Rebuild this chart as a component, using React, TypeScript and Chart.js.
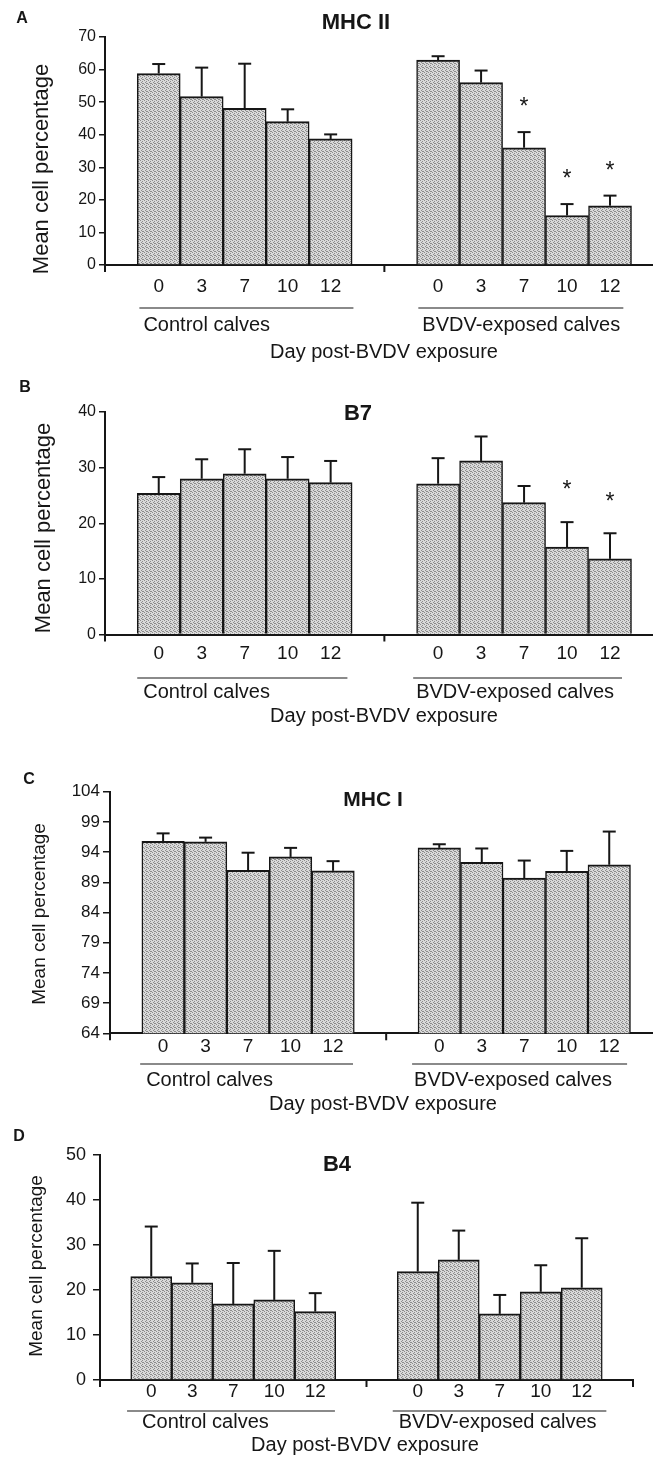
import React, { useEffect, useRef } from 'react';
import { Chart, registerables } from 'chart.js';

Chart.register(...registerables);

// ---------- data ----------
const days = ['0', '3', '7', '10', '12'];
const groups = ['Control calves', 'BVDV-exposed calves'];
const xAxisTitle = 'Day post-BVDV exposure';
const yAxisTitle = 'Mean cell percentage';

// A: MHC II
const mhc2Control = [58.8, 51.7, 48.1, 44.0, 38.7];
const mhc2ControlSE = [2.9, 8.9, 13.7, 3.8, 1.4];
const mhc2Bvdv = [62.9, 56.0, 36.0, 15.2, 18.2];
const mhc2BvdvSE = [1.2, 3.7, 4.8, 3.5, 3.1];
const mhc2BvdvSig = [false, false, true, true, true];

// B: B7
const b7Control = [25.4, 28.0, 28.9, 28.0, 27.3];
const b7ControlSE = [2.9, 3.5, 4.4, 3.9, 3.9];
const b7Bvdv = [27.1, 31.2, 23.7, 15.7, 13.6];
const b7BvdvSE = [4.6, 4.4, 3.0, 4.5, 4.6];
const b7BvdvSig = [false, false, false, true, true];

// C: MHC I
const mhc1Control = [95.8, 95.7, 91.0, 93.2, 90.9];
const mhc1ControlSE = [1.3, 0.7, 2.9, 1.5, 1.6];
const mhc1Bvdv = [94.7, 92.3, 89.7, 90.8, 91.9];
const mhc1BvdvSE = [0.6, 2.3, 2.9, 3.4, 5.5];
const mhc1BvdvSig = [false, false, false, false, false];

// D: B4
const b4Control = [23.0, 21.6, 16.9, 17.8, 15.2];
const b4ControlSE = [11.1, 4.3, 9.1, 10.9, 4.1];
const b4Bvdv = [24.1, 26.7, 14.7, 19.6, 20.5];
const b4BvdvSE = [15.3, 6.5, 4.2, 5.9, 11.0];
const b4BvdvSig = [false, false, false, false, false];

// ---------- layout / style ----------
const FONT = '"Liberation Sans", Arial, Helvetica, sans-serif';
const INK = '#161616';
const GROUP_GAP = 6.5; // x offset (in bar units) of the second group
const W = 653;

const panels = [
  {
    letter: 'A', title: 'MHC II', top: 0, height: 372,
    area: { l: 105, t: 37, r: 653, b: 265 },
    xMin: -1.25, xMax: 11.5, yMin: 0, yMax: 70, yStep: 10,
    control: mhc2Control, controlSE: mhc2ControlSE, bvdv: mhc2Bvdv, bvdvSE: mhc2BvdvSE, sig: mhc2BvdvSig,
    titlePos: [356, 23], titleSize: 22, letterPos: [22, 19],
    yTitlePos: [42, 169], yTitleSize: 22, yTickSize: 16, yTickLen: 6, yTickPad: 3,
    xTickSize: 19, xTickY: 287, underlineY: 308, underlines: [[-0.45, 4.53], [6.04, 10.81]],
    labelDx: [4, 4], groupY: 325, groupSize: 20, xTitlePos: [384, 352], xTitleSize: 20,
    starOffset: 28, extraTicks: [-1.25, 5.25],
  },
  {
    letter: 'B', title: 'B7', top: 372, height: 356,
    area: { l: 105, t: 412, r: 653, b: 634.5 },
    xMin: -1.25, xMax: 11.5, yMin: 0, yMax: 40, yStep: 10,
    control: b7Control, controlSE: b7ControlSE, bvdv: b7Bvdv, bvdvSE: b7BvdvSE, sig: b7BvdvSig,
    titlePos: [358, 414], titleSize: 22, letterPos: [25, 388],
    yTitlePos: [44, 528], yTitleSize: 22, yTickSize: 16, yTickLen: 6, yTickPad: 3,
    xTickSize: 19, xTickY: 654, underlineY: 678, underlines: [[-0.5, 4.39], [5.92, 10.78]],
    labelDx: [6, 3], groupY: 692, groupSize: 20, xTitlePos: [384, 716], xTitleSize: 20,
    starOffset: 35, extraTicks: [-1.25, 5.25],
  },
  {
    letter: 'C', title: 'MHC I', top: 728, height: 387,
    area: { l: 110, t: 791.7, r: 653, b: 1033.3 },
    xMin: -1.25, xMax: 11.53, yMin: 64, yMax: 104, yStep: 5,
    control: mhc1Control, controlSE: mhc1ControlSE, bvdv: mhc1Bvdv, bvdvSE: mhc1BvdvSE, sig: mhc1BvdvSig,
    titlePos: [373, 800], titleSize: 21, letterPos: [29, 780],
    yTitlePos: [40, 914], yTitleSize: 19, yTickSize: 17, yTickLen: 7, yTickPad: 3,
    xTickSize: 19, xTickY: 1047, underlineY: 1064, underlines: [[-0.54, 4.47], [5.86, 10.92]],
    labelDx: [6, 2], groupY: 1080, groupSize: 20, xTitlePos: [383, 1104], xTitleSize: 20,
    starOffset: 28, extraTicks: [-1.25, 5.25],
  },
  {
    letter: 'D', title: 'B4', top: 1115, height: 344,
    area: { l: 100, t: 1155, r: 633, b: 1380 },
    xMin: -1.25, xMax: 11.75, yMin: 0, yMax: 50, yStep: 10,
    control: b4Control, controlSE: b4ControlSE, bvdv: b4Bvdv, bvdvSE: b4BvdvSE, sig: b4BvdvSig,
    titlePos: [337, 1165], titleSize: 22, letterPos: [19, 1137],
    yTitlePos: [37, 1266], yTitleSize: 19, yTickSize: 18, yTickLen: 7, yTickPad: 7,
    xTickSize: 19, xTickY: 1392, underlineY: 1411, underlines: [[-0.59, 4.48], [5.89, 11.1]],
    labelDx: [15, 6], groupY: 1422, groupSize: 20, xTitlePos: [365, 1445], xTitleSize: 20,
    starOffset: 28, extraTicks: [-1.25, 5.25, 11.75],
  },
];

function makePattern(ctx: CanvasRenderingContext2D) {
  const c = document.createElement('canvas');
  c.width = 4;
  c.height = 4;
  const g = c.getContext('2d')!;
  g.fillStyle = '#d9d9d9';
  g.fillRect(0, 0, 4, 4);
  g.fillStyle = '#8c8c8c';
  [[0, 0], [2, 1], [1, 2], [3, 3], [2, 3]].forEach(([x, y]) => g.fillRect(x, y, 1, 1));
  return ctx.createPattern(c, 'repeat');
}

function Panel({ p }: { p: any }) {
  const ref = useRef<HTMLCanvasElement | null>(null);

  useEffect(() => {
    const canvas = ref.current!;
    const ctx0 = canvas.getContext('2d')!;
    const pattern = makePattern(ctx0);

    const xPositions = [
      ...days.map((_, i) => i),
      ...days.map((_, i) => i + GROUP_GAP),
    ];
    const xLabels = [...days, ...days];
    const values = [...p.control, ...p.bvdv];
    const errors = [...p.controlSE, ...p.bvdvSE];
    const stars = [...p.control.map(() => false), ...p.sig];
    const data = values.map((v: number, i: number) => ({ x: xPositions[i], y: v }));

    const ly = (y: number) => y - p.top;

    const decor = {
      id: 'decor',
      afterDraw(chart: any) {
        const ctx = chart.ctx as CanvasRenderingContext2D;
        const xs = chart.scales.x;
        const ys = chart.scales.y;
        const ca = chart.chartArea;
        ctx.save();
        ctx.fillStyle = INK;
        ctx.strokeStyle = INK;
        ctx.lineCap = 'butt';

        // error bars and significance stars
        const meta = chart.getDatasetMeta(0);
        meta.data.forEach((el: any, i: number) => {
          const capY = ys.getPixelForValue(values[i] + errors[i]);
          ctx.lineWidth = 2;
          ctx.beginPath();
          ctx.moveTo(el.x, el.y);
          ctx.lineTo(el.x, capY);
          ctx.stroke();
          ctx.beginPath();
          ctx.moveTo(el.x - 6.5, capY);
          ctx.lineTo(el.x + 6.5, capY);
          ctx.stroke();
          if (stars[i]) {
            ctx.font = `23px ${FONT}`;
            ctx.textAlign = 'center';
            ctx.textBaseline = 'middle';
            ctx.fillText('*', el.x, capY - p.starOffset + 4);
          }
        });

        // small downward tick marks on the x axis
        ctx.lineWidth = 2;
        p.extraTicks.forEach((v: number) => {
          const px = xs.getPixelForValue(v);
          ctx.beginPath();
          ctx.moveTo(px, ca.bottom);
          ctx.lineTo(px, ca.bottom + 7);
          ctx.stroke();
        });

        // group underlines and labels
        ctx.lineWidth = 1.2;
        ctx.font = `${p.groupSize}px ${FONT}`;
        ctx.textAlign = 'left';
        ctx.textBaseline = 'middle';
        p.underlines.forEach((u: number[], gi: number) => {
          const x0 = xs.getPixelForValue(u[0]);
          const x1 = xs.getPixelForValue(u[1]);
          ctx.beginPath();
          ctx.moveTo(x0, ly(p.underlineY));
          ctx.lineTo(x1, ly(p.underlineY));
          ctx.stroke();
          ctx.fillText(groups[gi], x0 + p.labelDx[gi], ly(p.groupY));
        });

        // x title
        ctx.textAlign = 'center';
        ctx.font = `${p.xTitleSize}px ${FONT}`;
        ctx.fillText(xAxisTitle, p.xTitlePos[0], ly(p.xTitlePos[1]));

        // chart title
        ctx.font = `bold ${p.titleSize}px ${FONT}`;
        ctx.fillText(p.title, p.titlePos[0], ly(p.titlePos[1]));

        // panel letter
        ctx.font = `bold 16px ${FONT}`;
        ctx.fillText(p.letter, p.letterPos[0], ly(p.letterPos[1]));

        // y title
        ctx.save();
        ctx.translate(p.yTitlePos[0], ly(p.yTitlePos[1]));
        ctx.rotate(-Math.PI / 2);
        ctx.font = `${p.yTitleSize}px ${FONT}`;
        ctx.fillText(yAxisTitle, 0, 0);
        ctx.restore();

        ctx.restore();
      },
    };

    const chart = new Chart(canvas, {
      type: 'bar',
      data: {
        datasets: [
          {
            data,
            backgroundColor: pattern as any,
            borderColor: INK,
            borderWidth: { top: 2, left: 1.5, right: 1.5, bottom: 0 } as any,
            borderSkipped: 'start',
            barPercentage: 1,
            categoryPercentage: 1,
          },
        ],
      },
      options: {
        responsive: false,
        animation: false,
        events: [],
        layout: {
          padding: {
            left: 0,
            top: ly(p.area.t),
            right: W - p.area.r,
            bottom: 0,
          },
        },
        plugins: {
          legend: { display: false },
          tooltip: { enabled: false },
          title: { display: false },
        },
        scales: {
          x: {
            type: 'linear',
            min: p.xMin,
            max: p.xMax,
            offset: false,
            grid: { display: false, drawTicks: false },
            border: { display: true, color: INK, width: 2 },
            afterBuildTicks: (scale: any) => {
              scale.ticks = xPositions.map((v) => ({ value: v }));
            },
            afterFit: (scale: any) => {
              scale.height = p.height - ly(p.area.b);
            },
            ticks: {
              autoSkip: false,
              maxRotation: 0,
              minRotation: 0,
              color: INK,
              font: { family: FONT, size: p.xTickSize },
              padding: p.xTickY - p.area.b - 0.6 * p.xTickSize,
              callback: (_v: any, i: number) => xLabels[i],
            },
          },
          y: {
            type: 'linear',
            min: p.yMin,
            max: p.yMax,
            grid: {
              display: true,
              drawOnChartArea: false,
              drawTicks: true,
              tickLength: p.yTickLen,
              color: INK,
              lineWidth: 1.5,
            },
            border: { display: true, color: INK, width: 2 },
            afterFit: (scale: any) => {
              scale.width = p.area.l;
            },
            ticks: {
              stepSize: p.yStep,
              autoSkip: false,
              color: INK,
              padding: p.yTickPad,
              font: { family: FONT, size: p.yTickSize },
            },
          },
        },
      },
      plugins: [decor],
    });

    return () => chart.destroy();
  }, []);

  return (
    <canvas
      ref={ref}
      width={W}
      height={p.height}
      style={{ position: 'absolute', left: 0, top: p.top, width: W, height: p.height, display: 'block' }}
    />
  );
}

export default function App() {
  return (
    <div style={{ position: 'absolute', left: 0, top: 0, width: W, height: 1459, background: '#fff' }}>
      {panels.map((p) => (
        <Panel key={p.letter} p={p} />
      ))}
    </div>
  );
}
